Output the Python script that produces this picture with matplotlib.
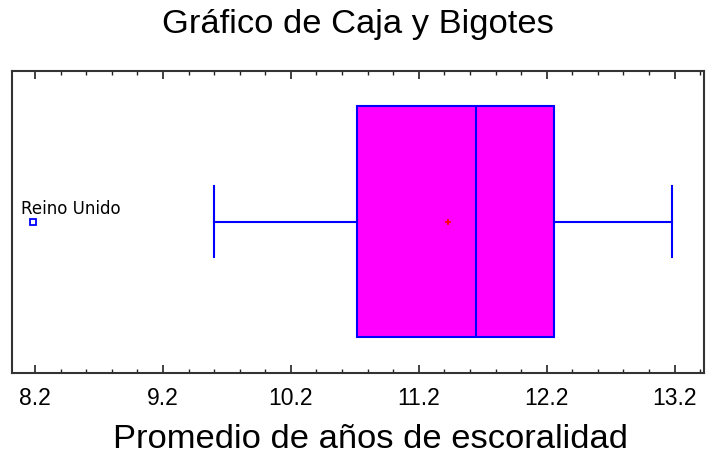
import matplotlib.pyplot as plt
from matplotlib.ticker import MultipleLocator
import numpy as np

# box statistics
q1 = 10.72
median = 11.645
q3 = 12.26
whisker_lo = 9.60
whisker_hi = 13.18
mean_val = 11.43
outliers = [8.18]
outlier_labels = ['Reino Unido']
tick_vals = [8.2, 9.2, 10.2, 11.2, 12.2, 13.2]

stats = [{'q1': q1, 'med': median, 'q3': q3, 'whislo': whisker_lo,
          'whishi': whisker_hi, 'mean': mean_val, 'fliers': outliers}]

plt.rcParams['font.family'] = ['Liberation Sans', 'DejaVu Sans']

fig = plt.figure(figsize=(7.09, 4.58), dpi=100)
ax = fig.add_axes([0.017, 0.186, 0.976, 0.659])

ax.bxp(stats, positions=[0], vert=False, widths=0.765, patch_artist=True,
       showmeans=True, manage_ticks=False,
       boxprops=dict(facecolor='#ff00ff', edgecolor='#0000ff', linewidth=1.5),
       medianprops=dict(color='#0000ff', linewidth=1.5),
       whiskerprops=dict(color='#0000ff', linewidth=1.5),
       capprops=dict(color='#0000ff', linewidth=1.5),
       capwidths=0.235,
       meanprops=dict(marker='+', markeredgecolor='red', markersize=5, markeredgewidth=1.2),
       flierprops=dict(marker='s', markerfacecolor='none', markeredgecolor='#0000ff',
                       markersize=4, markeredgewidth=1.3))

# label the outlier
for xv, lab in zip(outliers, outlier_labels):
    ax.annotate(lab, (xv, 0), xytext=(-8, 6), textcoords='offset points',
                fontsize=12, family='DejaVu Sans', color='black',
                ha='left', va='baseline')

ax.set_xlim(8.02, 13.43)
ax.set_ylim(-0.5, 0.5)
ax.set_xticks(tick_vals)
ax.set_xticklabels([f'{v:.1f}' for v in tick_vals])
ax.xaxis.set_minor_locator(MultipleLocator(0.2))
ax.tick_params(axis='x', which='both', direction='in', top=True, bottom=True,
               labelsize=16.5, pad=10, color='#222222')
ax.tick_params(axis='x', which='major', length=6, width=1.2)
ax.tick_params(axis='x', which='minor', length=3, width=1.0)
ax.set_yticks([])
for s in ax.spines.values():
    s.set_linewidth(1.5)
    s.set_color('#333333')

ax.set_title('Gráfico de Caja y Bigotes', fontsize=24.8, pad=27)
ax.set_xlabel('Promedio de años de escoralidad', fontsize=24.8, labelpad=10)
ax.xaxis.label.set_x(0.518)

plt.savefig('out.png', dpi=100)
